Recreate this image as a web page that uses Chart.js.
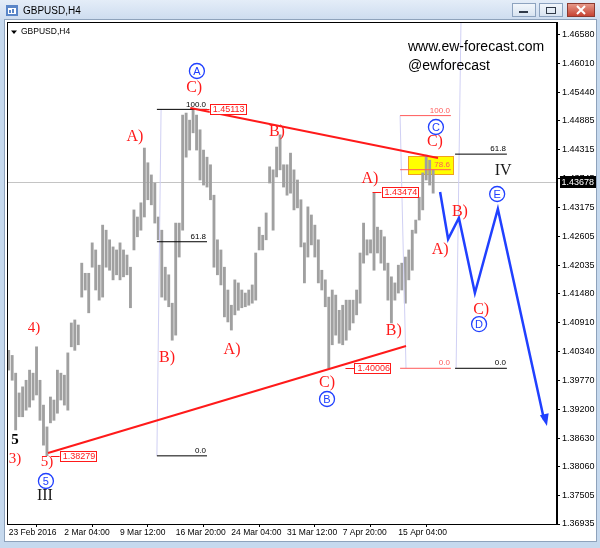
<!DOCTYPE html>
<html>
<head>
<meta charset="utf-8">
<script src="https://cdn.jsdelivr.net/npm/chart.js@4.4.1/dist/chart.umd.min.js"></script>
<style>
  html, body { margin: 0; padding: 0; background: #c6d9ee; }
  canvas { display: block; }
</style>
</head>
<body>
<canvas id="chart" width="600" height="548"></canvas>
<script>
const symbol = 'GBPUSD,H4'

// H4 bars, low / high
const barLow = [
  1.3997, 1.3977, 1.3879, 1.3905, 1.3905, 1.3918, 1.3924, 1.3938, 1.3948, 1.3898,
  1.3849, 1.3828, 1.3893, 1.3898, 1.3912, 1.3938, 1.3928, 1.3918, 1.4043, 1.4036,
  1.4047, 1.4141, 1.4155, 1.4110, 1.4200, 1.4155, 1.4135, 1.4141, 1.4200, 1.4194,
  1.4175, 1.4185, 1.4175, 1.4181, 1.4185, 1.4120, 1.4234, 1.4260, 1.4273, 1.4299,
  1.4333, 1.4323, 1.4287, 1.4254, 1.4141, 1.4135, 1.4122, 1.4056, 1.4066, 1.4220,
  1.4273, 1.4417, 1.4431, 1.4465, 1.4431, 1.4372, 1.4362, 1.4358, 1.4333, 1.4200,
  1.4185, 1.4165, 1.4102, 1.4092, 1.4076, 1.4106, 1.4115, 1.4120, 1.4122, 1.4125,
  1.4129, 1.4135, 1.4234, 1.4234, 1.4254, 1.4366, 1.4273, 1.4378, 1.4392, 1.4358,
  1.4342, 1.4346, 1.4313, 1.4317, 1.4240, 1.4169, 1.4220, 1.4244, 1.4220, 1.4169,
  1.4155, 1.4122, 1.4001, 1.4047, 1.4066, 1.4050, 1.4047, 1.4056, 1.4076, 1.4090,
  1.4106, 1.4129, 1.4208, 1.4224, 1.4228, 1.4194, 1.4228, 1.4208, 1.4194, 1.4135,
  1.4090, 1.4135, 1.4149, 1.4155, 1.4129, 1.4175, 1.4194, 1.4267, 1.4293, 1.4313,
  1.4372, 1.4362, 1.4346
]
const barHigh = [
  1.4036, 1.4026, 1.3991, 1.3952, 1.3964, 1.3977, 1.3997, 1.3991, 1.4043, 1.3977,
  1.3928, 1.3885, 1.3944, 1.3938, 1.3997, 1.3991, 1.3987, 1.4031, 1.4090, 1.4096,
  1.4086, 1.4208, 1.4188, 1.4188, 1.4248, 1.4234, 1.4204, 1.4283, 1.4273, 1.4254,
  1.4240, 1.4234, 1.4248, 1.4234, 1.4224, 1.4200, 1.4313, 1.4299, 1.4327, 1.4435,
  1.4406, 1.4382, 1.4366, 1.4299, 1.4273, 1.4200, 1.4185, 1.4129, 1.4287, 1.4287,
  1.4500, 1.4504, 1.4490, 1.4511, 1.4500, 1.4471, 1.4431, 1.4417, 1.4402, 1.4342,
  1.4254, 1.4234, 1.4200, 1.4155, 1.4125, 1.4175, 1.4169, 1.4155, 1.4149, 1.4155,
  1.4165, 1.4228, 1.4279, 1.4263, 1.4307, 1.4398, 1.4392, 1.4437, 1.4461, 1.4402,
  1.4402, 1.4425, 1.4392, 1.4372, 1.4333, 1.4248, 1.4319, 1.4303, 1.4283, 1.4254,
  1.4194, 1.4175, 1.4141, 1.4155, 1.4145, 1.4115, 1.4125, 1.4135, 1.4135, 1.4135,
  1.4155, 1.4228, 1.4287, 1.4254, 1.4254, 1.4347, 1.4279, 1.4273, 1.4260, 1.4208,
  1.4181, 1.4169, 1.4204, 1.4208, 1.4220, 1.4234, 1.4273, 1.4293, 1.4338, 1.4386,
  1.4421, 1.4411, 1.4392
]
const lastPrice = 1.43678

const priceTicks = [
  1.46580, 1.46010, 1.45440, 1.44885, 1.44315, 1.43745, 1.43175, 1.42605, 1.42035,
  1.41480, 1.40910, 1.40340, 1.39770, 1.39200, 1.38630, 1.38060, 1.37505, 1.36935
]
const dateTicks = [0, 16, 32, 48, 64, 80, 96, 112]
const dateLabels = ['23 Feb 2016', '2 Mar 04:00', '9 Mar 12:00', '16 Mar 20:00',
  '24 Mar 04:00', '31 Mar 12:00', '7 Apr 20:00', '15 Apr 04:00']

// drawn objects, as [bar index, price]
const resistanceLine = [[52.2, 1.45140], [123.4, 1.44154]]
const supportLine = [[11.3, 1.38335], [114.2, 1.40446]]
const projectionPath = [[124.0, 1.43483], [126.3, 1.42556], [129.4, 1.42970],
  [134.0, 1.41491], [140.6, 1.43148], [154.7, 1.38868]]

const fibLeftLevels = [1.45113, 1.42502, 1.38279]
const fibLeftNames = ['100.0', '61.8', '0.0']
const fibLeftSpan = [42.6, 57.0]
const fibLeftAnchor = [[43.8, 1.45113], [42.6, 1.38279]]

const fibMidLevels = [1.44990, 1.43923, 1.40006]
const fibMidNames = ['100.0', '78.6', '0.0']
const fibMidSpan = [112.5, 127.1]
const fibMidAnchor = [[112.5, 1.44990], [114.2, 1.40006]]

const fibRightLevels = [1.44230, 1.40006]
const fibRightNames = ['61.8', '0.0']
const fibRightSpan = [128.3, 143.2]
const fibRightAnchor = [[130.0, 1.46840], [128.6, 1.40006]]

const targetZone = [114.8, 127.7, 1.43838, 1.44193]

const priceTags = [[1.45113, 55.2], [1.38279, 12.1], [1.40006, 96.8], [1.43474, 104.6]]

const redWaves = [
  ['C)', 53.3, 1.45534], ['A)', 36.3, 1.44568], ['B)', 77.1, 1.44666],
  ['B)', 45.5, 1.40209], ['A)', 64.2, 1.40367], ['C)', 91.5, 1.39716],
  ['A)', 103.8, 1.43739], ['B)', 110.7, 1.40741], ['C)', 122.5, 1.44469],
  ['B)', 129.7, 1.43089], ['A)', 124.0, 1.42339], ['C)', 135.8, 1.41156]
]
const redSmallWaves = [['4)', 7.3, 1.40801], ['3)', 1.8, 1.38217], ['5)', 11.0, 1.38158]]
const blackWaves = [['IV', 142.1, 1.43897], ['III', 10.4, 1.37487]]
const boldWaves = [['5', 1.8, 1.38591]]
const circleWaves = [
  ['A', 54.1, 1.45870], ['B', 91.5, 1.39400], ['C', 122.8, 1.44765],
  ['D', 135.2, 1.40879], ['E', 140.4, 1.43444], ['5', 10.7, 1.37783]
]

const RED = '#ff1a1a'
const FIBRED = '#ff5a5a'
const BLUE = '#2040ff'
const LAVENDER = '#d0d0f4'
const SANS = '"Liberation Sans", Arial, sans-serif'
const SERIF = '"Liberation Serif", "Times New Roman", serif'

const pts = arr => arr.map(([x, y]) => ({ x, y }))

const lineSet = (arr, color, width, order) => ({
  type: 'line',
  data: pts(arr),
  borderColor: color,
  borderWidth: width,
  pointRadius: 0,
  pointHoverRadius: 0,
  fill: false,
  tension: 0,
  order: order
})

const fibSets = (levels, span, anchor, color) => {
  const sets = [lineSet(anchor, LAVENDER, 1, 4)]
  levels.forEach(p => sets.push(lineSet([[span[0], p], [span[1], p]], color, 1, 3)))
  return sets
}

const pixel = (chart, i, p) => [chart.scales.x.getPixelForValue(i), chart.scales.y.getPixelForValue(p)]

const overlay = {
  id: 'overlay',
  beforeDraw(chart) {
    const c = chart.ctx
    c.save()
    c.fillStyle = '#c6d9ee'
    c.fillRect(0, 0, 600, 548)
    const g = c.createLinearGradient(0, 0, 0, 20)
    g.addColorStop(0, '#e4edf8')
    g.addColorStop(1, '#cddcef')
    c.fillStyle = g
    c.fillRect(0, 0, 600, 20)

    // window icon
    c.fillStyle = '#5a86c8'
    c.fillRect(6, 5, 12, 11)
    c.fillStyle = '#ffffff'
    c.fillRect(8, 8, 8, 6)
    c.fillStyle = '#5a86c8'
    c.fillRect(9, 10, 2, 3)
    c.fillRect(12, 9, 2, 4)
    c.fillStyle = '#000'
    c.font = '10px ' + SANS
    c.textBaseline = 'middle'
    c.fillText(symbol, 23, 11)

    // window buttons
    const btn = (x, w, fill, edge) => {
      const bg = c.createLinearGradient(0, 3, 0, 17)
      bg.addColorStop(0, fill[0])
      bg.addColorStop(1, fill[1])
      c.fillStyle = bg
      c.fillRect(x, 3, w, 14)
      c.strokeStyle = edge
      c.lineWidth = 1
      c.strokeRect(x + 0.5, 3.5, w - 1, 13)
    }
    btn(512, 24, ['#f4f8fc', '#d6e2f0'], '#8da3bf')
    btn(539, 24, ['#f4f8fc', '#d6e2f0'], '#8da3bf')
    btn(567, 28, ['#e8a090', '#c43c2c'], '#8c3a30')
    c.fillStyle = '#303a48'
    c.fillRect(519, 11, 9, 2)
    c.strokeStyle = '#303a48'
    c.strokeRect(546.5, 7.5, 9, 6)
    c.strokeStyle = '#ffffff'
    c.lineWidth = 2
    c.beginPath()
    c.moveTo(577, 6); c.lineTo(585, 14)
    c.moveTo(585, 6); c.lineTo(577, 14)
    c.stroke()

    // client area
    c.fillStyle = '#ffffff'
    c.fillRect(5, 20, 591, 521)
    c.strokeStyle = '#8ea2bb'
    c.lineWidth = 1
    c.strokeRect(4.5, 19.5, 592, 522)
    c.restore()
  },
  beforeDatasetsDraw(chart) {
    const c = chart.ctx
    const a = chart.chartArea
    c.save()
    const yp = chart.scales.y.getPixelForValue(lastPrice)
    c.strokeStyle = '#c4c4c4'
    c.lineWidth = 1
    c.beginPath()
    c.moveTo(a.left, Math.round(yp) + 0.5)
    c.lineTo(a.right, Math.round(yp) + 0.5)
    c.stroke()

    const [x0, y1] = pixel(chart, targetZone[0], targetZone[3])
    const [x1, y0] = pixel(chart, targetZone[1], targetZone[2])
    c.fillStyle = '#ffff00'
    c.fillRect(x0, y1, x1 - x0, y0 - y1)
    c.strokeStyle = '#f0a020'
    c.strokeRect(Math.round(x0) + 0.5, Math.round(y1) + 0.5, Math.round(x1 - x0), Math.round(y0 - y1))
    c.restore()
  },
  afterDatasetsDraw(chart) {
    const c = chart.ctx
    c.save()

    // arrow head on the projection
    const n = projectionPath.length
    const [tx, ty] = pixel(chart, projectionPath[n - 1][0], projectionPath[n - 1][1])
    const [bx, by] = pixel(chart, projectionPath[n - 2][0], projectionPath[n - 2][1])
    const ang = Math.atan2(ty - by, tx - bx)
    c.fillStyle = BLUE
    c.beginPath()
    c.moveTo(tx, ty)
    c.lineTo(tx - 12 * Math.cos(ang) + 4.5 * Math.sin(ang), ty - 12 * Math.sin(ang) - 4.5 * Math.cos(ang))
    c.lineTo(tx - 12 * Math.cos(ang) - 4.5 * Math.sin(ang), ty - 12 * Math.sin(ang) + 4.5 * Math.cos(ang))
    c.closePath()
    c.fill()

    // fibonacci level names
    c.font = '8px ' + SANS
    c.textAlign = 'right'
    c.textBaseline = 'bottom'
    const fibNames = (levels, names, span, color) => {
      levels.forEach((p, k) => {
        const [x, y] = pixel(chart, span[1], p)
        c.fillStyle = color
        c.fillText(names[k], x - 1, y - 1)
      })
    }
    fibNames(fibLeftLevels, fibLeftNames, fibLeftSpan, '#000')
    fibNames(fibMidLevels, fibMidNames, fibMidSpan, FIBRED)
    fibNames(fibRightLevels, fibRightNames, fibRightSpan, '#000')

    // price tags
    c.font = '9px ' + SANS
    c.textAlign = 'left'
    c.textBaseline = 'middle'
    priceTags.forEach(([p, i]) => {
      const [x, yRaw] = pixel(chart, i, p)
      const y = Math.round(yRaw)
      c.strokeStyle = RED
      c.lineWidth = 1
      c.beginPath()
      c.moveTo(x, y + 0.5)
      c.lineTo(x + 9, y + 0.5)
      c.stroke()
      c.fillStyle = '#ffffff'
      c.fillRect(x + 9, y - 5, 37, 11)
      c.strokeRect(Math.round(x + 9) + 0.5, y - 4.5, 36, 10)
      c.fillStyle = RED
      c.fillText(p.toFixed(5), x + 12, y + 1)
    })

    // wave labels
    c.textAlign = 'center'
    c.textBaseline = 'middle'
    const write = (list, font, color) => {
      c.font = font
      c.fillStyle = color
      list.forEach(([t, i, p]) => {
        const [x, y] = pixel(chart, i, p)
        c.fillText(t, x, y)
      })
    }
    write(redWaves, '16px ' + SERIF, RED)
    write(redSmallWaves, '15px ' + SERIF, RED)
    write(blackWaves, '16px ' + SERIF, '#1a1a1a')
    write(boldWaves, 'bold 15px ' + SERIF, '#000')

    c.lineWidth = 1.3
    circleWaves.forEach(([t, i, p]) => {
      const [x, y] = pixel(chart, i, p)
      c.strokeStyle = BLUE
      c.beginPath()
      c.arc(x, y, 7.5, 0, Math.PI * 2)
      c.stroke()
      c.fillStyle = BLUE
      c.font = '11px ' + SANS
      c.fillText(t, x, y + 0.5)
    })

    // chart header texts
    c.textAlign = 'left'
    c.fillStyle = '#000'
    c.font = '8.5px ' + SANS
    c.fillText(symbol, 21, 32)
    c.beginPath()
    c.moveTo(11, 30.5); c.lineTo(17, 30.5); c.lineTo(14, 34)
    c.closePath()
    c.fill()
    c.font = '14px ' + SANS
    c.fillText('www.ew-forecast.com', 408, 47)
    c.fillText('@ewforecast', 408, 66)
    c.restore()
  },
  afterDraw(chart) {
    const c = chart.ctx
    const a = chart.chartArea
    c.save()
    c.strokeStyle = '#000'
    c.lineWidth = 1
    c.strokeRect(a.left - 0.5, a.top + 0.5, a.right - a.left, a.bottom - a.top)

    const y = Math.round(chart.scales.y.getPixelForValue(lastPrice))
    c.fillStyle = '#000'
    c.fillRect(560, y - 6, 36, 12)
    c.fillStyle = '#ffffff'
    c.font = '9px ' + SANS
    c.textBaseline = 'middle'
    c.fillText(lastPrice.toFixed(5), 561.5, y + 0.5)
    c.restore()
  }
}

new Chart(document.getElementById('chart'), {
  type: 'bar',
  data: {
    datasets: [
      {
        type: 'bar',
        data: barHigh.map((h, i) => ({ x: i, y: [barLow[i], h] })),
        backgroundColor: '#a0a0a0',
        borderWidth: 0,
        barThickness: 2.2,
        grouped: false,
        order: 5
      },
      ...fibSets(fibLeftLevels, fibLeftSpan, fibLeftAnchor, '#000'),
      ...fibSets(fibMidLevels, fibMidSpan, fibMidAnchor, FIBRED),
      ...fibSets(fibRightLevels, fibRightSpan, fibRightAnchor, '#000'),
      lineSet(resistanceLine, RED, 2, 2),
      lineSet(supportLine, RED, 2, 2),
      lineSet(projectionPath.slice(0, -1).concat([[projectionPath[projectionPath.length - 1][0] - 0.8,
        projectionPath[projectionPath.length - 1][1] + 0.0012]]), BLUE, 2.5, 1)
    ]
  },
  options: {
    responsive: false,
    animation: false,
    devicePixelRatio: 1,
    events: [],
    layout: { padding: { left: 8, top: 22, right: 0, bottom: 0 } },
    plugins: {
      legend: { display: false },
      tooltip: { enabled: false }
    },
    scales: {
      x: {
        type: 'linear',
        min: -0.2,
        max: 157.6,
        offset: false,
        grid: { display: true, drawOnChartArea: false, drawTicks: true, tickLength: 3, color: '#000' },
        border: { display: true, color: '#000' },
        ticks: {
          autoSkip: false,
          maxRotation: 0,
          align: 'start',
          padding: 1,
          color: '#000',
          font: { family: 'Liberation Sans', size: 8.5 },
          callback: v => {
            const k = dateTicks.indexOf(v)
            return k >= 0 ? dateLabels[k] : ''
          }
        },
        afterBuildTicks: s => { s.ticks = dateTicks.map(v => ({ value: v })) },
        afterFit: s => { s.height = 24 }
      },
      y: {
        position: 'right',
        min: 1.36935,
        max: 1.46836,
        grid: { display: true, drawOnChartArea: false, drawTicks: true, tickLength: 3, color: '#000' },
        border: { display: true, color: '#000' },
        ticks: {
          padding: 2,
          color: '#000',
          font: { family: 'Liberation Sans', size: 9 },
          callback: v => v.toFixed(5)
        },
        afterBuildTicks: s => { s.ticks = priceTicks.map(v => ({ value: v })) },
        afterFit: s => { s.width = 43 }
      }
    }
  },
  plugins: [overlay]
})
</script>
</body>
</html>
